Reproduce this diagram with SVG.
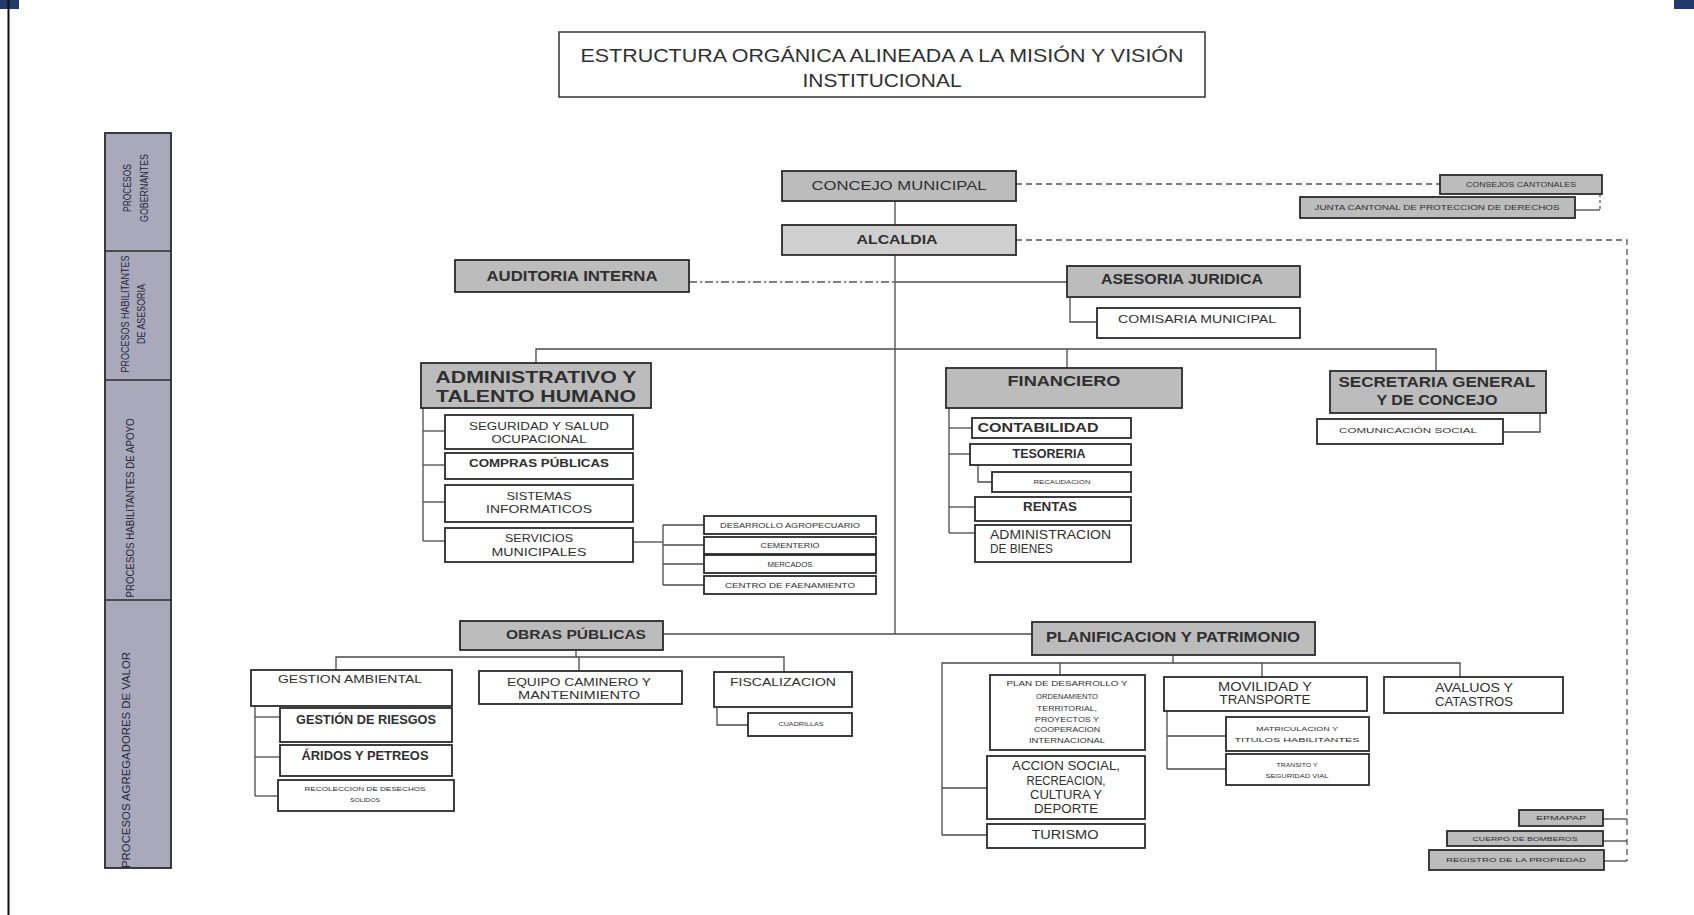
<svg xmlns="http://www.w3.org/2000/svg" width="1694" height="915" viewBox="0 0 1694 915">
<style>
text{font-family:"Liberation Sans",Arial,sans-serif;fill:#2f2f2f;text-anchor:middle}
.g{fill:#bcbcbc;stroke:#2b2b2b;stroke-width:1.8}
.a{fill:#cfcfcf;stroke:#2b2b2b;stroke-width:1.8}
.w{fill:#ffffff;stroke:#2b2b2b;stroke-width:1.8}
.b{font-weight:bold}
.ln{fill:none;stroke:#4a4a4a;stroke-width:1.3}
.da{fill:none;stroke:#555;stroke-width:1.3;stroke-dasharray:6 4}
.dd{fill:none;stroke:#555;stroke-width:1.3;stroke-dasharray:8 3 2 3}
.dt{fill:none;stroke:#555;stroke-width:1.3;stroke-dasharray:3 3}
.sb{fill:#a9a9bb;stroke:#2b2b2b;stroke-width:1.8}
.st{fill:#26263a;font-size:10px}
</style>
<rect width="1694" height="915" fill="#ffffff"/>
<rect x="0" y="0" width="19" height="9" fill="#1f3a6b"/>
<rect x="1674" y="0" width="20" height="9" fill="#1f3a6b"/>
<line x1="8.5" y1="0" x2="8.5" y2="915" stroke="#111" stroke-width="2"/>

<g id="title">
<rect x="559" y="32" width="646" height="65" fill="#fff" stroke="#333" stroke-width="1.5"/>
<text x="882" y="62" font-size="19" textLength="603" lengthAdjust="spacingAndGlyphs">ESTRUCTURA ORGÁNICA ALINEADA A LA MISIÓN Y VISIÓN</text>
<text x="882" y="87" font-size="19" textLength="159" lengthAdjust="spacingAndGlyphs">INSTITUCIONAL</text>
</g>

<g id="sidebar">
<rect class="sb" x="105" y="133" width="66" height="735"/>
<line x1="105" y1="251" x2="171" y2="251" stroke="#2b2b2b" stroke-width="1.5"/>
<line x1="105" y1="380" x2="171" y2="380" stroke="#2b2b2b" stroke-width="1.5"/>
<line x1="105" y1="600" x2="171" y2="600" stroke="#2b2b2b" stroke-width="1.5"/>
<text class="st" transform="translate(131,188) rotate(-90)" textLength="48" lengthAdjust="spacingAndGlyphs">PROCESOS</text>
<text class="st" transform="translate(148,188) rotate(-90)" textLength="68" lengthAdjust="spacingAndGlyphs">GOBERNANTES</text>
<text class="st" transform="translate(129,314) rotate(-90)" textLength="117" lengthAdjust="spacingAndGlyphs">PROCESOS HABILITANTES</text>
<text class="st" transform="translate(145,314) rotate(-90)" textLength="60" lengthAdjust="spacingAndGlyphs">DE ASESORIA</text>
<text class="st" transform="translate(134,508) rotate(-90)" textLength="179" lengthAdjust="spacingAndGlyphs">PROCESOS HABILITANTES DE APOYO</text>
<text class="st" transform="translate(130,760) rotate(-90)" textLength="216" lengthAdjust="spacingAndGlyphs">PROCESOS AGREGADORES DE VALOR</text>
</g>

<g id="connectors">
<line class="ln" x1="895" y1="201" x2="895" y2="634"/>
<line class="dd" x1="689" y1="282" x2="895" y2="282"/>
<line class="ln" x1="895" y1="282" x2="1067" y2="282"/>
<polyline class="ln" points="1070,297 1070,322 1097,322"/>
<line class="da" x1="1016" y1="184" x2="1440" y2="184"/>
<polyline class="dt" points="1600,194 1600,210"/>
<line class="ln" x1="1575" y1="210" x2="1600" y2="210"/>
<polyline class="da" points="1016,240 1627,240 1627,861"/>
<line class="ln" x1="1603" y1="819" x2="1627" y2="819"/>
<line class="ln" x1="1603" y1="841" x2="1627" y2="841"/>
<line class="ln" x1="1604" y1="861" x2="1627" y2="861"/>
<polyline class="ln" points="536,363 536,349 1436,349 1436,371"/>
<line class="ln" x1="1067" y1="349" x2="1067" y2="368"/>
<polyline class="ln" points="1503,432 1540,432 1540,413"/>
<polyline class="ln" points="423,408 423,541"/>
<line class="ln" x1="423" y1="431" x2="445" y2="431"/>
<line class="ln" x1="423" y1="465" x2="445" y2="465"/>
<line class="ln" x1="423" y1="502" x2="445" y2="502"/>
<line class="ln" x1="423" y1="541" x2="445" y2="541"/>
<line class="ln" x1="633" y1="542" x2="663" y2="542"/>
<line class="ln" x1="663" y1="525" x2="663" y2="585"/>
<line class="ln" x1="663" y1="525" x2="704" y2="525"/>
<line class="ln" x1="663" y1="545" x2="704" y2="545"/>
<line class="ln" x1="663" y1="564" x2="704" y2="564"/>
<line class="ln" x1="663" y1="585" x2="704" y2="585"/>
<line class="ln" x1="949" y1="408" x2="949" y2="533"/>
<line class="ln" x1="949" y1="428" x2="972" y2="428"/>
<line class="ln" x1="949" y1="454" x2="970" y2="454"/>
<line class="ln" x1="949" y1="507" x2="975" y2="507"/>
<line class="ln" x1="949" y1="533" x2="975" y2="533"/>
<polyline class="ln" points="978,465 978,482 992,482"/>
<line class="ln" x1="663" y1="634" x2="1032" y2="634"/>
<polyline class="ln" points="576,650 576,657"/>
<polyline class="ln" points="336,670 336,657 784,657 784,672"/>
<line class="ln" x1="579" y1="657" x2="579" y2="671"/>
<line class="ln" x1="255" y1="706" x2="255" y2="796"/>
<line class="ln" x1="255" y1="717" x2="280" y2="717"/>
<line class="ln" x1="255" y1="757" x2="280" y2="757"/>
<line class="ln" x1="255" y1="796" x2="278" y2="796"/>
<polyline class="ln" points="717,707 717,725 748,725"/>
<line class="ln" x1="1173" y1="655" x2="1173" y2="663"/>
<polyline class="ln" points="942,835 942,663 1460,663 1460,677"/>
<line class="ln" x1="1060" y1="663" x2="1060" y2="675"/>
<line class="ln" x1="1262" y1="663" x2="1262" y2="677"/>
<line class="ln" x1="942" y1="788" x2="987" y2="788"/>
<line class="ln" x1="942" y1="835" x2="987" y2="835"/>
<line class="ln" x1="1167" y1="711" x2="1167" y2="769"/>
<line class="ln" x1="1167" y1="736" x2="1226" y2="736"/>
<line class="ln" x1="1167" y1="769" x2="1226" y2="769"/>
</g>

<g id="concejo"><rect class="g" x="782" y="171" width="234" height="30"/><text x="899" y="190" font-size="13" textLength="175" lengthAdjust="spacingAndGlyphs">CONCEJO MUNICIPAL</text></g>
<g id="alcaldia"><rect class="a" x="782" y="225" width="234" height="30"/><text class="b" x="897" y="244" font-size="13" textLength="81" lengthAdjust="spacingAndGlyphs">ALCALDIA</text></g>
<g id="auditoria"><rect class="g" x="455" y="260" width="234" height="32"/><text class="b" x="572" y="281" font-size="14" textLength="171" lengthAdjust="spacingAndGlyphs">AUDITORIA INTERNA</text></g>
<g id="asesoria"><rect class="g" x="1067" y="266" width="233" height="31"/><text class="b" x="1182" y="284" font-size="14" textLength="162" lengthAdjust="spacingAndGlyphs">ASESORIA JURIDICA</text></g>
<g id="comisaria"><rect class="w" x="1097" y="308" width="203" height="30"/><text x="1197" y="323" font-size="11" textLength="158" lengthAdjust="spacingAndGlyphs">COMISARIA MUNICIPAL</text></g>
<g id="consejos"><rect class="g" x="1440" y="175" width="162" height="19"/><text x="1521" y="187" font-size="7" textLength="110" lengthAdjust="spacingAndGlyphs">CONSEJOS CANTONALES</text></g>
<g id="junta"><rect class="g" x="1300" y="197" width="275" height="21"/><text x="1437" y="210" font-size="7" textLength="245" lengthAdjust="spacingAndGlyphs">JUNTA CANTONAL DE PROTECCION DE DERECHOS</text></g>

<g id="administrativo"><rect class="g" x="421" y="363" width="230" height="45"/><text class="b" x="536" y="383" font-size="16" textLength="201" lengthAdjust="spacingAndGlyphs">ADMINISTRATIVO Y</text><text class="b" x="536" y="402" font-size="16" textLength="200" lengthAdjust="spacingAndGlyphs">TALENTO HUMANO</text></g>
<g id="seguridad"><rect class="w" x="445" y="415" width="188" height="34"/><text x="539" y="430" font-size="11" textLength="140" lengthAdjust="spacingAndGlyphs">SEGURIDAD Y SALUD</text><text x="539" y="443" font-size="11" textLength="95" lengthAdjust="spacingAndGlyphs">OCUPACIONAL</text></g>
<g id="compras"><rect class="w" x="445" y="453" width="188" height="26"/><text class="b" x="539" y="467" font-size="11" textLength="140" lengthAdjust="spacingAndGlyphs">COMPRAS PÚBLICAS</text></g>
<g id="sistemas"><rect class="w" x="445" y="485" width="188" height="37"/><text x="539" y="500" font-size="11" textLength="65" lengthAdjust="spacingAndGlyphs">SISTEMAS</text><text x="539" y="513" font-size="11" textLength="106" lengthAdjust="spacingAndGlyphs">INFORMATICOS</text></g>
<g id="servicios"><rect class="w" x="445" y="528" width="188" height="34"/><text x="539" y="542" font-size="11" textLength="68" lengthAdjust="spacingAndGlyphs">SERVICIOS</text><text x="539" y="556" font-size="11" textLength="95" lengthAdjust="spacingAndGlyphs">MUNICIPALES</text></g>
<g id="desarrollo"><rect class="w" x="704" y="516" width="172" height="18"/><text x="790" y="528" font-size="7" textLength="140" lengthAdjust="spacingAndGlyphs">DESARROLLO AGROPECUARIO</text></g>
<g id="cementerio"><rect class="w" x="704" y="537" width="172" height="17"/><text x="790" y="548" font-size="7" textLength="59" lengthAdjust="spacingAndGlyphs">CEMENTERIO</text></g>
<g id="mercados"><rect class="w" x="704" y="555" width="172" height="18"/><text x="790" y="567" font-size="7" textLength="45" lengthAdjust="spacingAndGlyphs">MERCADOS</text></g>
<g id="centro"><rect class="w" x="704" y="576" width="172" height="18"/><text x="790" y="588" font-size="7" textLength="130" lengthAdjust="spacingAndGlyphs">CENTRO DE FAENAMIENTO</text></g>

<g id="financiero"><rect class="g" x="946" y="368" width="236" height="40"/><text class="b" x="1064" y="386" font-size="15" textLength="113" lengthAdjust="spacingAndGlyphs">FINANCIERO</text></g>
<g id="contabilidad"><rect class="w" x="972" y="418" width="159" height="20"/><text class="b" x="1038" y="432" font-size="12" textLength="121" lengthAdjust="spacingAndGlyphs">CONTABILIDAD</text></g>
<g id="tesoreria"><rect class="w" x="970" y="444" width="161" height="21"/><text class="b" x="1049" y="458" font-size="12" textLength="73" lengthAdjust="spacingAndGlyphs">TESORERIA</text></g>
<g id="recaudacion"><rect class="w" x="992" y="472" width="139" height="20"/><text x="1062" y="484" font-size="6" textLength="57" lengthAdjust="spacingAndGlyphs">RECAUDACION</text></g>
<g id="rentas"><rect class="w" x="975" y="497" width="156" height="24"/><text class="b" x="1050" y="511" font-size="12" textLength="54" lengthAdjust="spacingAndGlyphs">RENTAS</text></g>
<g id="bienes"><rect class="w" x="975" y="525" width="156" height="37"/><text x="990" y="539" font-size="12" text-anchor="start" style="text-anchor:start" textLength="121" lengthAdjust="spacingAndGlyphs">ADMINISTRACION</text><text x="990" y="553" font-size="12" style="text-anchor:start" textLength="63" lengthAdjust="spacingAndGlyphs">DE BIENES</text></g>

<g id="secretaria"><rect class="g" x="1330" y="371" width="216" height="42"/><text class="b" x="1437" y="387" font-size="15" textLength="197" lengthAdjust="spacingAndGlyphs">SECRETARIA GENERAL</text><text class="b" x="1437" y="405" font-size="15" textLength="121" lengthAdjust="spacingAndGlyphs">Y DE CONCEJO</text></g>
<g id="comunicacion"><rect class="w" x="1317" y="419" width="186" height="25"/><text x="1408" y="433" font-size="7" textLength="138" lengthAdjust="spacingAndGlyphs">COMUNICACIÓN SOCIAL</text></g>

<g id="obras"><rect class="g" x="460" y="621" width="203" height="29"/><text class="b" x="576" y="639" font-size="13" textLength="140" lengthAdjust="spacingAndGlyphs">OBRAS PÚBLICAS</text></g>
<g id="gestionambiental"><rect class="w" x="251" y="670" width="201" height="36"/><text x="350" y="683" font-size="11" textLength="144" lengthAdjust="spacingAndGlyphs">GESTION AMBIENTAL</text></g>
<g id="riesgos"><rect class="w" x="280" y="708" width="172" height="34"/><text class="b" x="366" y="724" font-size="12" textLength="140" lengthAdjust="spacingAndGlyphs">GESTIÓN DE RIESGOS</text></g>
<g id="aridos"><rect class="w" x="280" y="745" width="172" height="31"/><text class="b" x="365" y="760" font-size="12" textLength="127" lengthAdjust="spacingAndGlyphs">ÁRIDOS Y PETREOS</text></g>
<g id="recoleccion"><rect class="w" x="278" y="780" width="176" height="31"/><text x="365" y="791" font-size="6" textLength="121" lengthAdjust="spacingAndGlyphs">RECOLECCION DE DESECHOS</text><text x="365" y="802" font-size="6" textLength="30" lengthAdjust="spacingAndGlyphs">SOLIDOS</text></g>
<g id="equipo"><rect class="w" x="479" y="671" width="203" height="33"/><text x="579" y="686" font-size="11" textLength="144" lengthAdjust="spacingAndGlyphs">EQUIPO CAMINERO Y</text><text x="579" y="699" font-size="11" textLength="122" lengthAdjust="spacingAndGlyphs">MANTENIMIENTO</text></g>
<g id="fiscalizacion"><rect class="w" x="714" y="672" width="138" height="35"/><text x="783" y="686" font-size="11" textLength="106" lengthAdjust="spacingAndGlyphs">FISCALIZACION</text></g>
<g id="cuadrillas"><rect class="w" x="748" y="713" width="104" height="23"/><text x="801" y="726" font-size="6" textLength="45" lengthAdjust="spacingAndGlyphs">CUADRILLAS</text></g>

<g id="planificacion"><rect class="g" x="1032" y="622" width="283" height="33"/><text class="b" x="1173" y="642" font-size="14" textLength="254" lengthAdjust="spacingAndGlyphs">PLANIFICACION Y PATRIMONIO</text></g>
<g id="plandesarrollo"><rect class="w" x="990" y="675" width="155" height="75"/>
<text x="1067" y="686" font-size="6.5" textLength="121" lengthAdjust="spacingAndGlyphs">PLAN DE DESARROLLO Y</text>
<text x="1067" y="699" font-size="6.5" textLength="62" lengthAdjust="spacingAndGlyphs">ORDENAMIENTO</text>
<text x="1067" y="711" font-size="6.5" textLength="60" lengthAdjust="spacingAndGlyphs">TERRITORIAL,</text>
<text x="1067" y="722" font-size="6.5" textLength="64" lengthAdjust="spacingAndGlyphs">PROYECTOS Y</text>
<text x="1067" y="732" font-size="6.5" textLength="66" lengthAdjust="spacingAndGlyphs">COOPERACION</text>
<text x="1067" y="743" font-size="6.5" textLength="76" lengthAdjust="spacingAndGlyphs">INTERNACIONAL</text></g>
<g id="accion"><rect class="w" x="987" y="756" width="158" height="63"/>
<text x="1066" y="770" font-size="12" textLength="108" lengthAdjust="spacingAndGlyphs">ACCION SOCIAL,</text>
<text x="1066" y="785" font-size="12" textLength="79" lengthAdjust="spacingAndGlyphs">RECREACION,</text>
<text x="1066" y="799" font-size="12" textLength="72" lengthAdjust="spacingAndGlyphs">CULTURA Y</text>
<text x="1066" y="813" font-size="12" textLength="64" lengthAdjust="spacingAndGlyphs">DEPORTE</text></g>
<g id="turismo"><rect class="w" x="987" y="824" width="158" height="24"/><text x="1065" y="839" font-size="12" textLength="67" lengthAdjust="spacingAndGlyphs">TURISMO</text></g>
<g id="movilidad"><rect class="w" x="1164" y="677" width="203" height="34"/><text x="1265" y="691" font-size="12" textLength="94" lengthAdjust="spacingAndGlyphs">MOVILIDAD Y</text><text x="1265" y="704" font-size="12" textLength="91" lengthAdjust="spacingAndGlyphs">TRANSPORTE</text></g>
<g id="matriculacion"><rect class="w" x="1226" y="717" width="143" height="34"/><text x="1297" y="731" font-size="6" textLength="82" lengthAdjust="spacingAndGlyphs">MATRICULACION Y</text><text x="1297" y="742" font-size="6" textLength="125" lengthAdjust="spacingAndGlyphs">TITULOS HABILITANTES</text></g>
<g id="transito"><rect class="w" x="1226" y="754" width="143" height="31"/><text x="1297" y="767" font-size="6" textLength="41" lengthAdjust="spacingAndGlyphs">TRANSITO Y</text><text x="1297" y="778" font-size="6" textLength="63" lengthAdjust="spacingAndGlyphs">SEGURIDAD VIAL</text></g>
<g id="avaluos"><rect class="w" x="1384" y="677" width="179" height="36"/><text x="1474" y="692" font-size="12" textLength="78" lengthAdjust="spacingAndGlyphs">AVALUOS Y</text><text x="1474" y="706" font-size="12" textLength="78" lengthAdjust="spacingAndGlyphs">CATASTROS</text></g>

<g id="epmapap"><rect class="g" x="1519" y="810" width="84" height="16"/><text x="1561" y="820" font-size="6" textLength="50" lengthAdjust="spacingAndGlyphs">EPMAPAP</text></g>
<g id="bomberos"><rect class="g" x="1447" y="831" width="156" height="15"/><text x="1525" y="841" font-size="6" textLength="105" lengthAdjust="spacingAndGlyphs">CUERPO DE BOMBEROS</text></g>
<g id="registro"><rect class="g" x="1429" y="850" width="175" height="20"/><text x="1516" y="862" font-size="6" textLength="140" lengthAdjust="spacingAndGlyphs">REGISTRO DE LA PROPIEDAD</text></g>
</svg>
